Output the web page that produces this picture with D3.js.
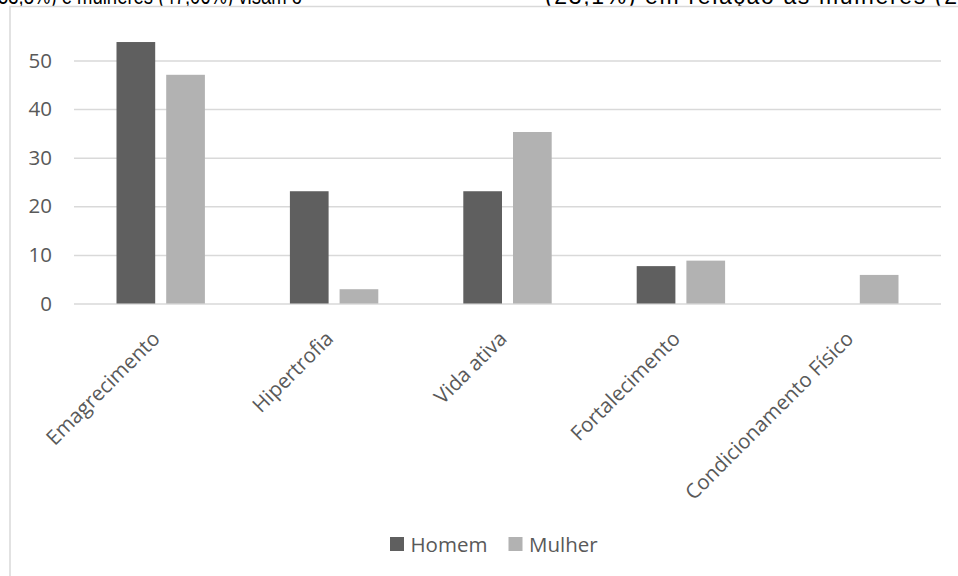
<!DOCTYPE html>
<html>
<head>
<meta charset="utf-8">
<script src="https://cdn.jsdelivr.net/npm/d3@7"></script>
<style>
  html, body { margin: 0; padding: 0; background: #fff; }
  svg { display: block; }
</style>
</head>
<body>
<svg id="chart" width="958" height="576"></svg>
<script>
const categories = ["Emagrecimento", "Hipertrofia", "Vida ativa", "Fortalecimento", "Condicionamento Físico"];
const seriesNames = ["Homem", "Mulher"];
const homem = [53.8, 23.1, 23.1, 7.69, 0];
const mulher = [47.06, 2.94, 35.29, 8.82, 5.88];
const yTicks = [0, 10, 20, 30, 40, 50];
const colors = ["#5f5f5f", "#b2b2b2"];
const topTextLeft = "53,8%) e mulheres (47,06%) visam o";
const topTextRight = "(23,1%) em relação às mulheres (2,";

const svg = d3.select("#chart");
const font = "'Open Sans', 'Noto Sans', sans-serif";
const textColor = "#595959";

// cropped document text at top (the reference shows only its lower part)
svg.append("text").attr("x", -2).attr("y", 3.5)
  .attr("textLength", 304).attr("lengthAdjust", "spacingAndGlyphs")
  .attr("font-family", "'Liberation Sans', Arial, sans-serif").attr("font-size", 23)
  .attr("fill", "#000").text(topTextLeft);
svg.append("text").attr("x", 545).attr("y", 3.5)
  .attr("textLength", 420).attr("lengthAdjust", "spacing")
  .attr("font-family", "'Liberation Sans', Arial, sans-serif").attr("font-size", 23)
  .attr("fill", "#000").text(topTextRight);

// chart frame
svg.append("rect").attr("x", 10).attr("y", 6.5).attr("width", 1000).attr("height", 620)
  .attr("fill", "#fff").attr("stroke", "#d9d9d9").attr("stroke-width", 1.5);

const x0 = d3.scaleBand().domain(categories).range([74, 941]).paddingInner(0).paddingOuter(0);
const y = d3.scaleLinear().domain([0, 50]).range([303.5, 60.5]);
const barW = 38.7, gap = 11;

// gridlines
const yAxis = d3.axisLeft(y).tickValues(yTicks).tickSize(-(941 - 74)).tickFormat(d3.format("d"));
const gy = svg.append("g").attr("transform", "translate(74,0)").call(yAxis);
gy.select(".domain").remove();
gy.selectAll(".tick line").attr("stroke", "#d9d9d9").attr("stroke-width", 1.5);
gy.selectAll(".tick text").attr("x", -22).attr("fill", textColor)
  .attr("font-family", font).attr("font-size", 20.5);

// bars
const data = categories.map((c, i) => ({ c, vals: [homem[i], mulher[i]] }));
const groups = svg.append("g").selectAll("g").data(data).join("g")
  .attr("transform", d => `translate(${x0(d.c) + x0.bandwidth() / 2},0)`);
groups.selectAll("rect").data(d => d.vals.map((v, k) => ({ v, k }))).join("rect")
  .filter(d => d.v > 0)
  .attr("x", d => d.k === 0 ? -(barW + gap / 2) : gap / 2)
  .attr("width", barW)
  .attr("y", d => y(d.v))
  .attr("height", d => y(0) - y(d.v))
  .attr("fill", d => colors[d.k]);

// category labels
svg.append("g").selectAll("text").data(categories).join("text")
  .attr("transform", d => `translate(${x0(d) + x0.bandwidth() / 2 + 0.5},${y(0) + 36.5}) rotate(-45)`)
  .attr("text-anchor", "end")
  .attr("fill", textColor).attr("font-family", font).attr("font-size", 20.5)
  .text(d => d);

// legend
const legend = svg.append("g");
const legendItems = [{ name: seriesNames[0], x: 390 }, { name: seriesNames[1], x: 508.5 }];
legendItems.forEach((it, i) => {
  legend.append("rect").attr("x", it.x).attr("y", 537).attr("width", 14).attr("height", 14).attr("fill", colors[i]);
  legend.append("text").attr("x", it.x + 20.5).attr("y", 551.5)
    .attr("fill", textColor).attr("font-family", font).attr("font-size", 20.5).text(it.name);
});
</script>
</body>
</html>
